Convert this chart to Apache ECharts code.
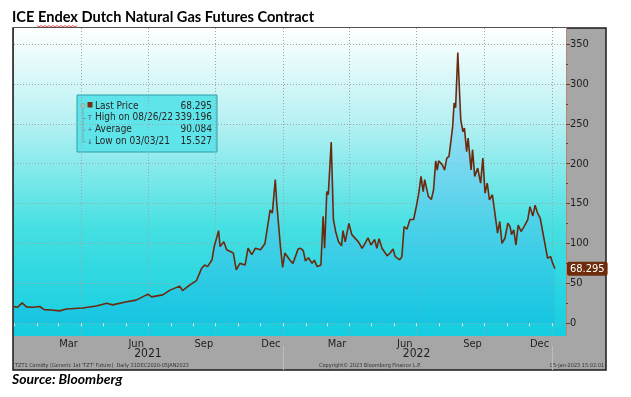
<!DOCTYPE html>
<html>
<head>
<meta charset="utf-8">
<script src="https://cdn.jsdelivr.net/npm/echarts@6/dist/echarts.min.js"></script>
<style>
  html, body { margin: 0; padding: 0; background: #fff; }
  #chart { width: 631px; height: 397px; }
</style>
</head>
<body>
<div id="chart"></div>
<script>
  // price series (EUR/MWh)
  const dates = [
    '2020-12-31', '2021-01-05', '2021-01-11', '2021-01-17', '2021-01-25', '2021-02-04', '2021-02-10', '2021-02-20',
    '2021-03-03', '2021-03-12', '2021-04-03', '2021-04-22', '2021-05-06', '2021-05-14', '2021-06-02', '2021-06-15',
    '2021-07-01', '2021-07-06', '2021-07-21', '2021-07-31', '2021-08-13', '2021-08-17', '2021-08-27', '2021-09-05',
    '2021-09-12', '2021-09-16', '2021-09-20', '2021-09-26', '2021-09-29', '2021-10-05', '2021-10-07', '2021-10-12',
    '2021-10-16', '2021-10-25', '2021-10-29', '2021-11-03', '2021-11-10', '2021-11-14', '2021-11-19', '2021-11-24',
    '2021-12-01', '2021-12-07', '2021-12-14', '2021-12-17', '2021-12-21', '2021-12-23', '2021-12-28', '2021-12-31',
    '2022-01-03', '2022-01-10', '2022-01-14', '2022-01-21', '2022-01-24', '2022-01-28', '2022-01-31', '2022-02-04',
    '2022-02-09', '2022-02-12', '2022-02-16', '2022-02-21', '2022-02-24', '2022-02-26', '2022-03-01', '2022-03-03',
    '2022-03-07', '2022-03-10', '2022-03-13', '2022-03-17', '2022-03-21', '2022-03-23', '2022-03-26', '2022-03-31',
    '2022-04-04', '2022-04-13', '2022-04-18', '2022-04-22', '2022-04-26', '2022-04-30', '2022-05-05', '2022-05-08',
    '2022-05-11', '2022-05-15', '2022-05-22', '2022-05-26', '2022-05-30', '2022-06-02', '2022-06-08', '2022-06-11',
    '2022-06-14', '2022-06-18', '2022-06-22', '2022-06-27', '2022-07-01', '2022-07-04', '2022-07-07', '2022-07-10',
    '2022-07-12', '2022-07-17', '2022-07-21', '2022-07-24', '2022-07-27', '2022-07-29', '2022-07-31', '2022-08-05',
    '2022-08-08', '2022-08-11', '2022-08-14', '2022-08-16', '2022-08-19', '2022-08-21', '2022-08-23', '2022-08-26',
    '2022-08-30', '2022-09-02', '2022-09-04', '2022-09-07', '2022-09-09', '2022-09-13', '2022-09-15', '2022-09-18',
    '2022-09-22', '2022-09-26', '2022-09-29', '2022-10-02', '2022-10-05', '2022-10-08', '2022-10-12', '2022-10-16',
    '2022-10-19', '2022-10-22', '2022-10-25', '2022-10-29', '2022-11-02', '2022-11-05', '2022-11-07', '2022-11-10',
    '2022-11-13', '2022-11-16', '2022-11-20', '2022-11-24', '2022-11-29', '2022-12-02', '2022-12-06', '2022-12-09',
    '2022-12-12', '2022-12-16', '2022-12-21', '2022-12-26', '2022-12-30', '2023-01-02', '2023-01-05'
  ]
  const prices = [
    20.8, 20.0, 25.5, 20.5, 20.0, 21.0, 17.0, 16.5,
    15.5, 17.8, 19.0, 21.5, 25.0, 23.0, 27.0, 29.0,
    36.5, 33.0, 35.5, 41.5, 46.5, 41.0, 48.0, 53.5,
    69.0, 73.0, 71.0, 79.5, 96.0, 116.0, 96.0, 102.0,
    92.0, 88.0, 67.0, 75.0, 73.0, 94.0, 86.0, 94.0,
    92.0, 100.0, 142.0, 138.0, 180.0, 150.0, 96.0, 70.0,
    88.0, 79.0, 75.0, 93.0, 94.0, 91.0, 78.0, 82.0,
    75.0, 79.0, 71.0, 73.0, 134.0, 94.0, 165.0, 161.0,
    227.0, 130.0, 115.0, 102.0, 97.0, 116.0, 102.0, 125.0,
    111.0, 102.0, 94.0, 100.0, 107.0, 98.0, 105.0, 94.0,
    106.0, 94.0, 84.5, 88.0, 93.0, 83.5, 79.5, 83.5,
    121.0, 118.0, 130.0, 130.0, 148.0, 163.0, 184.0, 165.0,
    180.0, 159.0, 155.0, 167.0, 203.5, 192.0, 203.5, 198.5,
    192.0, 207.0, 209.0, 223.5, 246.5, 276.0, 270.0, 339.2,
    255.0, 240.0, 244.5, 215.0, 232.0, 192.0, 217.5, 184.0,
    194.5, 175.5, 207.0, 163.0, 175.5, 154.5, 161.0, 133.5,
    113.0, 127.5, 100.0, 106.5, 125.5, 121.0, 111.0, 117.0,
    98.0, 123.0, 115.0, 121.0, 129.5, 146.0, 134.5, 148.0,
    139.0, 131.5, 106.5, 81.5, 83.5, 75.0, 68.295
  ]

  const lastPrice = 68.295
  const legendLabels = ['Last Price', 'High on 08/26/22', 'Average', 'Low on 03/03/21']
  const legendValues = ['68.295', '339.196', '90.084', '15.527']

  const monthNames = ['Jan', 'Feb', 'Mar', 'Apr', 'May', 'Jun', 'Jul', 'Aug', 'Sep', 'Oct', 'Nov', 'Dec']
  const monthLabelDates = ['2021-03-15', '2021-06-15', '2021-09-15', '2021-12-15', '2022-03-15', '2022-06-15', '2022-09-15', '2022-12-15']
  const monthStarts = [
    '2021-01-01', '2021-02-01', '2021-03-01', '2021-04-01', '2021-05-01', '2021-06-01', '2021-07-01', '2021-08-01',
    '2021-09-01', '2021-10-01', '2021-11-01', '2021-12-01', '2022-01-01', '2022-02-01', '2022-03-01', '2022-04-01',
    '2022-05-01', '2022-06-01', '2022-07-01', '2022-08-01', '2022-09-01', '2022-10-01', '2022-11-01', '2022-12-01', '2023-01-01'
  ]
  const quarterStarts = ['2021-04-01', '2021-07-01', '2021-10-01', '2022-01-01', '2022-04-01', '2022-07-01', '2022-10-01', '2023-01-01']
  const yearMids = ['2021-07-01', '2022-07-01']
  const yearBreaks = ['2022-01-01', '2023-01-01']
  const yTicks = [0, 50, 100, 150, 200, 250, 300, 350]
  const yMinorTicks = [25, 75, 125, 175, 225, 275, 325]

  const xMin = '2020-12-31'
  const xMax = '2023-01-20'

  // dates -> ms timestamps (UTC), used on plain value axes
  const ts = d => Date.parse(d + 'T00:00:00Z')

  const chart = echarts.init(document.getElementById('chart'))

  // red spell-check squiggle under "Endex"
  const squiggle = []
  for (let i = 0; i <= 20; i++) {
    squiggle.push([37 + i * 2, i % 2 === 0 ? 25.5 : 27])
  }

  const legendFont = '10px "DejaVu Sans Condensed"'
  const legendChildren = [
    { type: 'rect', shape: { x: 77, y: 95, width: 140, height: 57 }, style: { fill: '#5fe4ea', stroke: '#2f9ea6', lineWidth: 1 } },
    { type: 'polyline', shape: { points: [[83, 103], [83, 142], [86, 142]] }, style: { stroke: '#7a9ea0', lineWidth: 0.8, fill: null } },
    { type: 'polyline', shape: { points: [[83, 118.5], [86, 118.5]] }, style: { stroke: '#7a9ea0', lineWidth: 0.8 } },
    { type: 'polyline', shape: { points: [[83, 130], [86, 130]] }, style: { stroke: '#7a9ea0', lineWidth: 0.8 } },
    { type: 'rect', shape: { x: 81, y: 104, width: 4, height: 4 }, style: { fill: '#9cc', stroke: '#7a9ea0', lineWidth: 0.5 } },
    { type: 'rect', shape: { x: 87.5, y: 102, width: 5, height: 5.5 }, style: { fill: '#7a2a0a' } },
    { type: 'text', style: { x: 90, y: 118.5, text: 'T', font: '7px "Liberation Sans"', fill: '#557', align: 'center', verticalAlign: 'middle' } },
    { type: 'text', style: { x: 90, y: 130, text: '+', font: '7px "Liberation Sans"', fill: '#557', align: 'center', verticalAlign: 'middle' } },
    { type: 'text', style: { x: 90, y: 142, text: '↓', font: '7px "DejaVu Sans"', fill: '#557', align: 'center', verticalAlign: 'middle' } }
  ]
  legendLabels.forEach((label, i) => {
    legendChildren.push({ type: 'text', style: { x: 95, y: 106 + i * 11.8, text: label, font: legendFont, fill: '#262626', verticalAlign: 'middle' } })
    legendChildren.push({ type: 'text', style: { x: 212, y: 106 + i * 11.8, text: legendValues[i], font: legendFont, fill: '#262626', align: 'right', verticalAlign: 'middle' } })
  })

  const baseX = {
    type: 'value',
    min: ts(xMin),
    max: ts(xMax),
    axisLine: { show: false },
    splitLine: { show: false }
  }

  const option = {
    backgroundColor: '#ffffff',
    animation: false,
    grid: {
      left: 14,
      right: 65,
      top: 28,
      bottom: 61,
      show: true,
      borderWidth: 0,
      backgroundColor: new echarts.graphic.LinearGradient(0, 0, 0, 1, [
        { offset: 0, color: '#ffffff' },
        { offset: 0.3, color: '#b8f1f3' },
        { offset: 0.65, color: '#45e0e2' },
        { offset: 1, color: '#14cde0' }
      ])
    },
    xAxis: [
      Object.assign({}, baseX, {
        axisTick: { show: true, customValues: monthStarts.map(ts), length: 3, lineStyle: { color: '#e6e6e6', width: 1 } },
        axisLabel: {
          customValues: monthLabelDates.map(ts),
          formatter: function (v) { return monthNames[new Date(v).getUTCMonth()] },
          margin: 3,
          fontSize: 11,
          fontFamily: 'DejaVu Sans Condensed',
          color: '#1e1e1e'
        }
      }),
      Object.assign({}, baseX, {
        axisTick: { show: false, customValues: quarterStarts.map(ts) },
        axisLabel: { show: false },
        splitLine: { show: true, lineStyle: { color: '#9aa6a8', type: [1, 2], width: 1 } }
      }),
      Object.assign({}, baseX, {
        position: 'bottom',
        offset: 10,
        axisTick: { show: true, customValues: yearBreaks.map(ts), length: 24, lineStyle: { color: '#bdbdbd', width: 1 } },
        axisLabel: {
          customValues: yearMids.map(ts),
          formatter: function (v) { return String(new Date(v).getUTCFullYear()) },
          margin: 2,
          fontSize: 12,
          fontFamily: 'DejaVu Sans Condensed',
          color: '#1e1e1e'
        }
      })
    ],
    yAxis: [
      {
        type: 'value',
        position: 'right',
        min: -16,
        max: 370,
        axisLine: { show: true, lineStyle: { color: '#b88a70', width: 1 } },
        axisTick: { show: true, customValues: yTicks, length: 4, lineStyle: { color: '#7a3a1a', width: 1 } },
        axisLabel: {
          customValues: yTicks,
          margin: 4,
          fontSize: 11,
          fontFamily: 'DejaVu Sans Condensed',
          color: '#1e1e1e'
        },
        splitLine: { show: true, lineStyle: { color: '#98a8aa', type: [1, 2], width: 1 } }
      },
      {
        type: 'value',
        position: 'right',
        min: -16,
        max: 370,
        axisLine: { show: false },
        axisTick: { show: true, customValues: yMinorTicks, length: 2, lineStyle: { color: '#7a3a1a', width: 1 } },
        axisLabel: { show: false },
        splitLine: { show: false }
      }
    ],
    series: [
      {
        type: 'line',
        xAxisIndex: 0,
        yAxisIndex: 0,
        data: dates.map((d, i) => [ts(d), prices[i]]),
        symbol: 'none',
        lineStyle: { color: '#6b2a0e', width: 1.6 },
        areaStyle: {
          color: new echarts.graphic.LinearGradient(0, 28, 0, 336, [
            { offset: 0, color: '#c4ecfb' },
            { offset: 0.45, color: '#70d0f2' },
            { offset: 1, color: '#0cc0e0' }
          ], true)
        },
        markLine: {
          silent: true,
          symbol: 'none',
          lineStyle: { color: 'rgba(0,0,0,0)', width: 1 },
          data: [{ yAxis: lastPrice }],
          label: {
            show: true,
            position: 'end',
            distance: 1,
            formatter: String(lastPrice),
            color: '#ffffff',
            backgroundColor: '#6e2c0c',
            padding: [2, 3, 1, 3],
            borderRadius: 2,
            fontSize: 11,
            fontFamily: 'DejaVu Sans Condensed'
          }
        }
      }
    ],
    graphic: [
      { type: 'rect', z: -10, shape: { x: 13, y: 28, width: 593, height: 342 }, style: { fill: '#a6a6a6', stroke: '#1a1a1a', lineWidth: 1.5 } },
      { type: 'text', left: 12, top: 10, style: { text: 'ICE Endex Dutch Natural Gas Futures Contract', font: 'bold 14.6px Lato', fill: '#000' } },
      { type: 'polyline', shape: { points: squiggle }, style: { stroke: '#e02020', lineWidth: 0.8, fill: null } },
      { type: 'text', left: 12, top: 372, style: { text: 'Source: Bloomberg', font: 'italic bold 14px Lato', fill: '#000' } },
      { type: 'text', style: { x: 15, y: 366, text: "TZT1 Comdty (Generic 1st 'TZT' Future)  Daily 31DEC2020-05JAN2023", font: '5.5px "DejaVu Sans Condensed"', fill: '#333', verticalAlign: 'middle' } },
      { type: 'text', style: { x: 319, y: 366, text: 'Copyright© 2023 Bloomberg Finance L.P.', font: '5.5px "DejaVu Sans Condensed"', fill: '#333', verticalAlign: 'middle' } },
      { type: 'text', style: { x: 604, y: 366, text: '05-Jan-2023 15:02:01', font: '5.5px "DejaVu Sans Condensed"', fill: '#333', align: 'right', verticalAlign: 'middle' } },
      { type: 'group', children: legendChildren }
    ]
  }

  chart.setOption(option)
</script>
</body>
</html>
